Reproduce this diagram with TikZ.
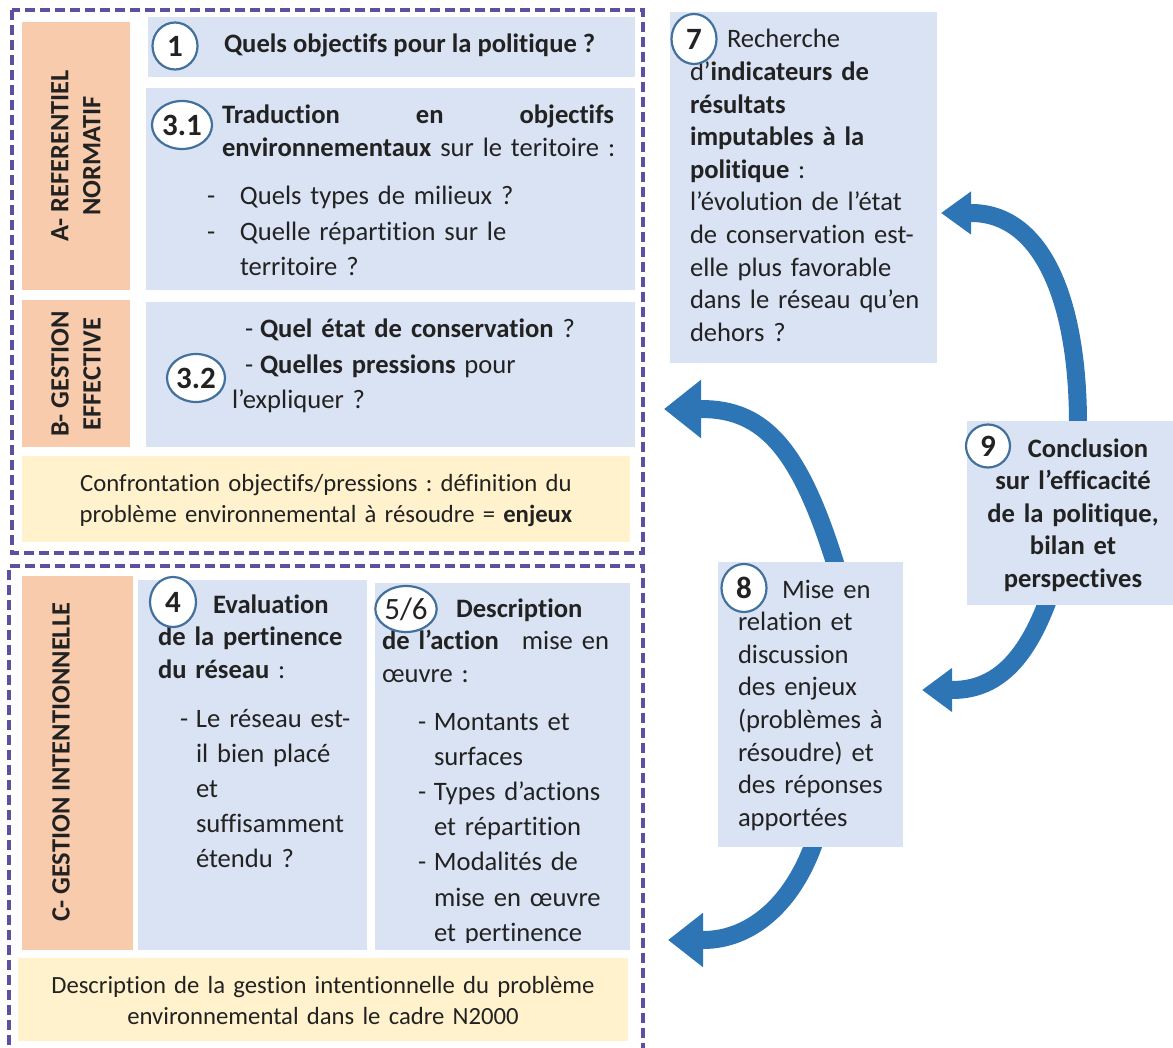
\documentclass[tikz,border=0pt]{standalone}
\usepackage{fontspec}
\setmainfont{Carlito}[Ligatures=NoCommon]
\frenchspacing
\usetikzlibrary{arrows.meta,shapes.geometric}
\definecolor{bluebox}{HTML}{DAE3F3}
\definecolor{orangebox}{HTML}{F8CBAD}
\definecolor{yellowbox}{HTML}{FFF2CC}
\definecolor{dashcol}{HTML}{5E50A0}
\definecolor{arrowcol}{HTML}{2E75B6}
\definecolor{circcol}{HTML}{41719C}
\definecolor{txt}{HTML}{222222}
\begin{document}
\begin{tikzpicture}[x=1pt,y=-1pt,
  rbox/.style={inner sep=0pt,outer sep=0pt,anchor=north west},
  bbox/.style={rbox,fill=bluebox},
  obox/.style={rbox,fill=orangebox},
  ybox/.style={rbox,fill=yellowbox},
  frame/.style={draw=dashcol,line width=3.5pt,dash pattern=on 10pt off 5pt},
  numc/.style={ellipse,draw=circcol,line width=2.2pt,fill=white,inner sep=0pt,text=txt,
    font=\fontsize{31}{31}\selectfont\bfseries},
  tx/.style={inner sep=0pt,outer sep=0pt,anchor=base west,align=left,text=txt,
    font=\fontsize{26.6}{32.6}\selectfont},
  txl/.style={tx,font=\fontsize{26.6}{35.2}\selectfont},
  txc/.style={tx,anchor=base,align=center},
  txy/.style={txc,font=\fontsize{24.7}{31.5}\selectfont},
  lab/.style={inner sep=0pt,outer sep=0pt,rotate=90,align=center,text=txt,
    font=\fontsize{26.4}{32}\selectfont\bfseries},
  bigarrow/.style={draw=arrowcol,line width=18pt}
]
\useasboundingbox (0,0) rectangle (1173,1048);

% ---- curved arrows (behind boxes)
\coordinate (a1s) at (1078,424);
\coordinate (a1t) at (941,213);
\coordinate (a2s) at (1048,600);
\coordinate (a2t) at (922,690);
\coordinate (a3s) at (836,566);
\coordinate (a3t) at (664,409);
\coordinate (a4s) at (814,843);
\coordinate (a4t) at (668,940);
\draw[bigarrow,-{Triangle[length=30pt,width=41pt]}]
  (a1s) .. controls (1078,300) and (1042,213) .. (971,213) -- (a1t);
\draw[bigarrow,-{Triangle[length=30pt,width=42pt]}]
  (a2s) .. controls (1025,662) and (995,690) .. (952,690) -- (a2t);
\draw[bigarrow,-{Triangle[length=37pt,width=56pt]}]
  (a3s) .. controls (800,450) and (765,409) .. (701,409) -- (a3t);
\draw[bigarrow,-{Triangle[length=35pt,width=52pt]}]
  (a4s) .. controls (792,905) and (750,940) .. (703,940) -- (a4t);

% ---- dashed frames
\node[rbox,minimum width=631pt,minimum height=543pt] (frA) at (12,10) {};
\draw[frame] (frA.north west) rectangle (frA.south east);
\coordinate (frBbl) at (9,1060);
\coordinate (frBtl) at (9,566);
\coordinate (frBtr) at (643,566);
\coordinate (frBbr) at (643,1060);
\draw[frame] (frBbl) -- (frBtl) -- (frBtr) -- (frBbr);

% ---- orange label boxes
\node[obox,minimum width=108pt,minimum height=268pt] (oA) at (22,22) {};
\node[obox,minimum width=108pt,minimum height=147pt] (oB) at (22,300) {};
\node[obox,minimum width=111pt,minimum height=374pt] (oC) at (22,576) {};
\node[lab] (lA) at (76,156) {A- REFERENTIEL\\NORMATIF};
\node[lab] (lB) at (76,374) {B- GESTION\\EFFECTIVE};
\node[lab] (lC) at (61,762) {C- GESTION INTENTIONNELLE};

% ---- blue boxes
\node[bbox,minimum width=487pt,minimum height=60pt] (b1) at (148,17) {};
\node[bbox,minimum width=489pt,minimum height=202pt] (b31) at (146,88) {};
\node[bbox,minimum width=489pt,minimum height=145pt] (b32) at (146,302) {};
\node[bbox,minimum width=229pt,minimum height=370pt] (b4) at (138,580) {};
\node[bbox,minimum width=255pt,minimum height=367pt] (b56) at (375,583) {};
\node[bbox,minimum width=267pt,minimum height=351pt] (b7) at (670,12) {};
\node[bbox,minimum width=185pt,minimum height=285pt] (b8) at (718,562) {};
\node[bbox,minimum width=206pt,minimum height=184pt] (b9) at (967,421) {};

% ---- yellow boxes
\node[ybox,minimum width=608pt,minimum height=86pt] (y1) at (22,456) {};
\node[ybox,minimum width=610pt,minimum height=83pt] (y2) at (18,958) {};

% ---- texts
\node[tx,font=\fontsize{26.6}{32.6}\selectfont\bfseries] (t1) at (224,53) {Quels objectifs pour la politique ?};

\node[tx,text width=420pt] (t31) at (222,124)
  {\makebox[392pt][l]{\textbf{Traduction\hfill en\hfill objectifs}}\\\textbf{environnementaux} sur le teritoire :};
\node[txl,text width=330pt] (t31l) at (207,205)
  {\makebox[33pt][l]{-}Quels types de milieux ?\\
   \makebox[33pt][l]{-}Quelle répartition sur le\\
   \hspace*{33pt}territoire ?};

\node[txl,text width=390pt] (t32) at (232,338)
  {\hspace*{13pt}\makebox[15pt][l]{-}\textbf{Quel état de conservation} ?\\
   \hspace*{13pt}\makebox[15pt][l]{-}\textbf{Quelles pressions} pour\\
   l’expliquer ?};

\node[txy,text width=600pt] (ty1) at (326,491)
  {Confrontation objectifs/pressions : définition du\\problème environnemental à résoudre = \textbf{enjeux}};

\node[tx,text width=205pt] (t4) at (158,613)
  {\hspace*{55pt}\textbf{Evaluation}\\\textbf{de la pertinence}\\\textbf{du réseau} :};
\node[txl,text width=180pt] (t4l) at (180,727)
  {\makebox[16pt][l]{-}Le réseau est-\\
   \hspace*{16pt}il bien placé\\
   \hspace*{16pt}et\\
   \hspace*{16pt}suffisamment\\
   \hspace*{16pt}étendu ?};

\node[tx,text width=240pt] (t56) at (382,617)
  {\hspace*{74pt}\textbf{Description}\\
   \makebox[227pt][l]{\textbf{de l’action}\hfill mise en}\\
   œuvre :};
\begin{scope}
\clip (375,583) rectangle (630,942);
\node[txl,text width=205pt] (t56l) at (418,730)
  {\makebox[16pt][l]{-}Montants et\\
   \hspace*{16pt}surfaces\\
   \makebox[16pt][l]{-}Types d’actions\\
   \hspace*{16pt}et répartition\\
   \makebox[16pt][l]{-}Modalités de\\
   \hspace*{16pt}mise en œuvre\\
   \hspace*{16pt}et pertinence};
\end{scope}

\node[txy,text width=610pt] (ty2) at (323,993)
  {Description de la gestion intentionnelle du problème\\environnemental dans le cadre N2000};

\node[tx,text width=245pt] (t7) at (690,48)
  {\hspace*{37pt}Recherche\\
   d’\textbf{indicateurs de}\\
   \textbf{résultats}\\
   \textbf{imputables à la}\\
   \textbf{politique} :\\
   l’évolution de l’état\\
   de conservation est-\\
   elle plus favorable\\
   dans le réseau qu’en\\
   dehors ?};

\node[tx,text width=165pt] (t8) at (738,598)
  {\hspace*{44pt}Mise en\\
   relation et\\
   discussion\\
   des enjeux\\
   (problèmes à\\
   résoudre) et\\
   des réponses\\
   apportées};

\node[txc,text width=200pt,font=\fontsize{26.6}{32.6}\selectfont\bfseries] (t9) at (1073,457)
  {\hspace*{30pt}Conclusion\\
   sur l’efficacité\\
   de la politique,\\
   bilan et\\
   perspectives};

% ---- number circles
\node[numc,minimum width=45pt,minimum height=47pt] (c1) at (175,46) {1};
\node[numc,minimum width=60pt,minimum height=48pt] (c31) at (182,125) {3.1};
\node[numc,minimum width=58pt,minimum height=48pt] (c32) at (196,378) {3.2};
\node[numc,minimum width=46pt,minimum height=50pt] (c4) at (173,602) {4};
\node[numc,minimum width=60pt,minimum height=46pt,font=\fontsize{31}{31}\selectfont] (c56) at (406,609) {5/6};
\node[numc,minimum width=45pt,minimum height=50pt] (c7) at (694,39) {7};
\node[numc,minimum width=45pt,minimum height=48pt] (c8) at (744,588) {8};
\node[numc,minimum width=44pt,minimum height=43pt] (c9) at (988,446) {9};
\end{tikzpicture}
\end{document}
